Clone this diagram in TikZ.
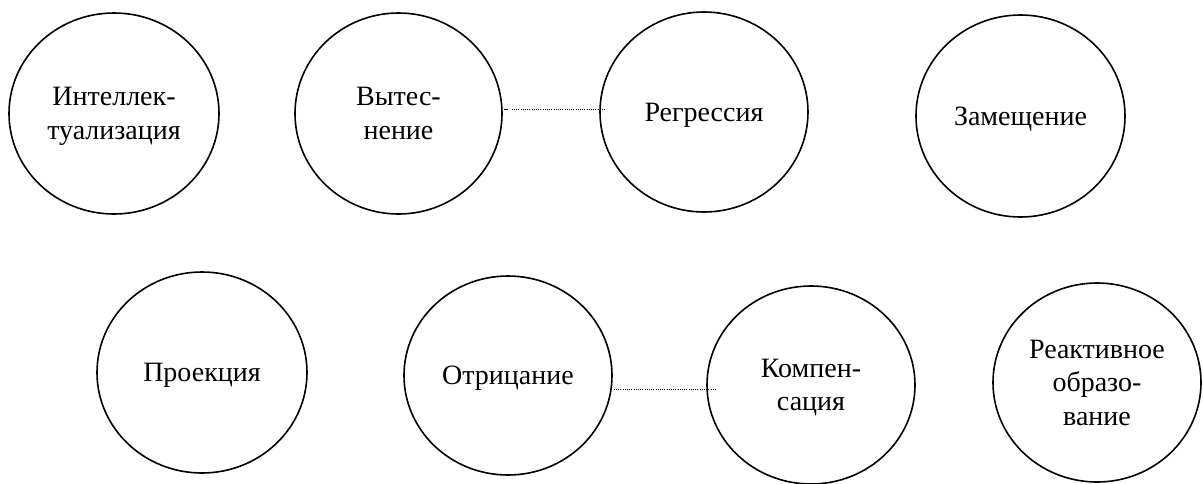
\documentclass[tikz,border=0pt]{standalone}
\usepackage{fontspec}
\setmainfont{Liberation Serif}
\newfontfamily\termfont{Liberation Serif}
\usetikzlibrary{shapes.geometric}

\tikzset{
  term/.style={draw=black, line width=1.6pt, ellipse, inner sep=0pt,
    align=center, text depth=0pt, font=\termfont\fontsize{28}{33.5}\selectfont},
  link/.style={draw=black, line width=0.9pt, dash pattern=on 1pt off 1.2pt},
  linkstub/.style={draw=black, line width=1.4pt}
}

\begin{document}
\begin{tikzpicture}[x=1pt, y=-1pt]
  \useasboundingbox (0,0) rectangle (1203,483);
  \fill[white] (0,0) rectangle (1203,483);

  % upper row
  \node[term, minimum width=210pt, minimum height=201pt] (c1) at (114,113.5) {Интеллек-\\туализация};
  \node[term, minimum width=207pt, minimum height=201pt] (c2) at (398.5,113.5) {Вытес-\\нение};
  \node[term, minimum width=208pt, minimum height=200pt] (c3) at (704,112) {Регрессия};
  \node[term, minimum width=209pt, minimum height=202pt] (c4) at (1020.5,116) {Замещение};

  % lower row
  \node[term, minimum width=210pt, minimum height=201pt] (c5) at (202,372.5) {Проекция};
  \node[term, minimum width=208pt, minimum height=199pt] (c6) at (508,375.5) {Отрицание};
  \node[term, minimum width=208pt, minimum height=198pt] (c7) at (811,385) {Компен-\\сация};
  \node[term, minimum width=208pt, minimum height=199pt] (c8) at (1097,382.5) {Реактивное\\образо-\\вание};

  % dotted connectors
  \draw[linkstub] ([xshift=1pt,yshift=4.2pt]c2.east) -- ++(4.5pt,0);
  \draw[link] ([xshift=9pt,yshift=4.2pt]c2.east) -- ([xshift=6pt,yshift=2.7pt]c3.west);
  \draw[link] ([xshift=1pt,yshift=-13.5pt]c6.east) -- ([xshift=10pt,yshift=-4pt]c7.west);
\end{tikzpicture}
\end{document}
